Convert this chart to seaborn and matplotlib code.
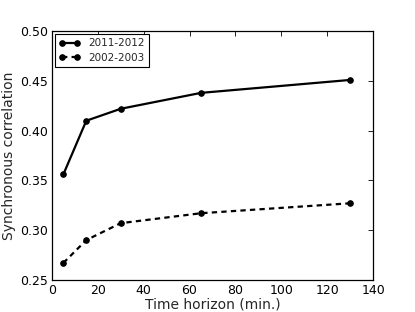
import matplotlib
matplotlib.use("Agg")
import matplotlib.pyplot as plt
import seaborn as sns
import pandas as pd

horizon = [5, 15, 30, 65, 130]
corr_2011 = [0.356, 0.410, 0.422, 0.438, 0.451]
corr_2002 = [0.267, 0.290, 0.307, 0.317, 0.327]
series_names = ["2011-2012", "2002-2003"]

df = pd.concat([
    pd.DataFrame({"x": horizon, "y": corr_2011, "period": series_names[0]}),
    pd.DataFrame({"x": horizon, "y": corr_2002, "period": series_names[1]}),
])

sns.set_style("white")
plt.rcParams["font.family"] = ["DejaVu Sans"]
fig = plt.figure(figsize=(4.15, 3.12), dpi=100)
ax = fig.add_axes([0.125, 0.103, 0.774, 0.797])

for name, ls in zip(series_names, ["-", (0, (2.4, 1.9))]):
    sub = df[df["period"] == name]
    sns.lineplot(data=sub, x="x", y="y", ax=ax, color="black", linestyle=ls,
                 linewidth=1.6, marker="o", markersize=4, markeredgecolor="black",
                 label=name)

ax.set_xlim(0, 140)
ax.set_ylim(0.25, 0.50)
ax.set_xticks([0, 20, 40, 60, 80, 100, 120, 140])
ax.set_yticks([0.25, 0.30, 0.35, 0.40, 0.45, 0.50])
ax.set_yticklabels(["0.25", "0.30", "0.35", "0.40", "0.45", "0.50"])
ax.tick_params(direction="in", top=True, right=True, length=3.5, width=0.6,
               labelsize=9, colors="black", pad=3)
for s in ax.spines.values():
    s.set_color("black")
    s.set_linewidth(0.9)
ax.set_xlabel("Time horizon (min.)", fontsize=10, labelpad=0)
ax.set_ylabel("Synchronous correlation", fontsize=10, labelpad=3)
leg = ax.legend(loc="upper left", fontsize=7.5, frameon=True, fancybox=False,
                edgecolor="black", handlelength=2.0, numpoints=2,
                borderaxespad=0.3, framealpha=1, borderpad=0.4, labelspacing=0.4)
leg.get_frame().set_linewidth(0.8)
fig.savefig("out.png", dpi=100)
